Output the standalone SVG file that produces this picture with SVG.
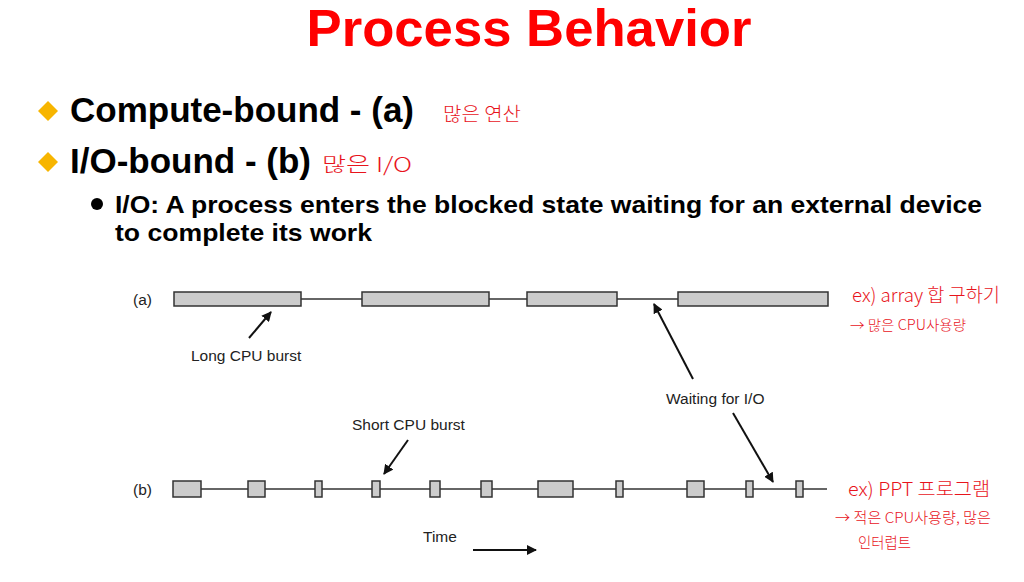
<svg xmlns="http://www.w3.org/2000/svg" width="1024" height="582" viewBox="0 0 1024 582">
<defs>
<style>
.title{font-family:"Liberation Sans",Arial,sans-serif;font-weight:bold;font-size:52px;fill:#ff0000}
.h1{font-family:"Liberation Sans",Arial,sans-serif;font-weight:bold;font-size:35px;fill:#000}
.h2{font-family:"Liberation Sans",Arial,sans-serif;font-weight:bold;font-size:24px;fill:#000}
.lbl{font-family:"Liberation Sans",Arial,sans-serif;font-size:15.5px;fill:#222}
.hand{font-family:"Noto Sans CJK KR","Noto Sans",sans-serif;font-weight:300;fill:#e8141c}
.bar{fill:#cccccc;stroke:#333;stroke-width:1.5}
.tl{stroke:#333;stroke-width:1.5;fill:none}
.arr{stroke:#111;stroke-width:2;fill:none;marker-end:url(#ah)}
</style>
<marker id="ah" viewBox="0 0 10 10" refX="9" refY="5" markerWidth="5" markerHeight="5" orient="auto" markerUnits="strokeWidth">
<path d="M0,0 L10,5 L0,10 z" fill="#111"/>
</marker>
</defs>
<rect width="1024" height="582" fill="#fff"/>

<text class="title" x="529" y="46" text-anchor="middle" textLength="445" lengthAdjust="spacingAndGlyphs">Process Behavior</text>

<g id="bullet1">
<path d="M48,101 L58,111 L48,121 L38,111 z" fill="#f7b500"/>
<text class="h1" x="70" y="122" textLength="344" lengthAdjust="spacingAndGlyphs">Compute-bound - (a)</text>
</g>
<g id="bullet2">
<path d="M48,152 L58,162 L48,172 L38,162 z" fill="#f7b500"/>
<text class="h1" x="70" y="173" textLength="241" lengthAdjust="spacingAndGlyphs">I/O-bound - (b)</text>
</g>
<g id="bullet3">
<circle cx="97" cy="204" r="6" fill="#000"/>
<text class="h2" x="115" y="213" textLength="867" lengthAdjust="spacingAndGlyphs">I/O: A process enters the blocked state waiting for an external device</text>
<text class="h2" x="115" y="241" textLength="257" lengthAdjust="spacingAndGlyphs">to complete its work</text>
</g>

<g id="notes">
<text class="hand" x="443" y="121" font-size="19" textLength="78" lengthAdjust="spacingAndGlyphs">많은 연산</text>
<text class="hand" x="322" y="172" font-size="20" textLength="90" lengthAdjust="spacingAndGlyphs">많은 I/O</text>
<text class="hand" x="852" y="302" font-size="19" textLength="148" lengthAdjust="spacingAndGlyphs">ex) array 합 구하기</text>
<text class="hand" x="850" y="330" font-size="14" textLength="116" lengthAdjust="spacingAndGlyphs">→ 많은 CPU사용량</text>
<text class="hand" x="848" y="496" font-size="19" textLength="142" lengthAdjust="spacingAndGlyphs">ex) PPT 프로그램</text>
<text class="hand" x="835" y="523" font-size="15" textLength="156" lengthAdjust="spacingAndGlyphs">→ 적은 CPU사용량, 많은</text>
<text class="hand" x="858" y="548" font-size="15" textLength="53" lengthAdjust="spacingAndGlyphs">인터럽트</text>
</g>

<g id="timeline-a">
<text class="lbl" x="133" y="305">(a)</text>
<line class="tl" x1="301" y1="299" x2="678" y2="299"/>
<rect class="bar" x="174" y="292" width="127" height="14"/>
<rect class="bar" x="362" y="292" width="127" height="14"/>
<rect class="bar" x="527" y="292" width="90" height="14"/>
<rect class="bar" x="678" y="292" width="150" height="14"/>
</g>

<g id="timeline-b">
<text class="lbl" x="133" y="495">(b)</text>
<line class="tl" x1="201" y1="489" x2="827" y2="489"/>
<rect class="bar" x="173" y="481" width="28" height="16"/>
<rect class="bar" x="248" y="481" width="17" height="16"/>
<rect class="bar" x="315" y="481" width="7" height="16"/>
<rect class="bar" x="372" y="481" width="8" height="16"/>
<rect class="bar" x="430" y="481" width="10" height="16"/>
<rect class="bar" x="481" y="481" width="11" height="16"/>
<rect class="bar" x="538" y="481" width="35" height="16"/>
<rect class="bar" x="616" y="481" width="7" height="16"/>
<rect class="bar" x="687" y="481" width="17" height="16"/>
<rect class="bar" x="746" y="481" width="7" height="16"/>
<rect class="bar" x="796" y="481" width="7" height="16"/>
</g>

<g id="labels">
<text class="lbl" x="191" y="361">Long CPU burst</text>
<text class="lbl" x="666" y="404">Waiting for I/O</text>
<text class="lbl" x="352" y="430">Short CPU burst</text>
<text class="lbl" x="423" y="542">Time</text>
</g>

<g id="connectors">
<line class="arr" x1="249" y1="338" x2="271" y2="312"/>
<line class="arr" x1="693" y1="379" x2="654" y2="304"/>
<line class="arr" x1="733" y1="413" x2="773" y2="482"/>
<line class="arr" x1="408" y1="440" x2="384" y2="474"/>
<line class="arr" x1="473" y1="550" x2="536" y2="550"/>
</g>
</svg>
